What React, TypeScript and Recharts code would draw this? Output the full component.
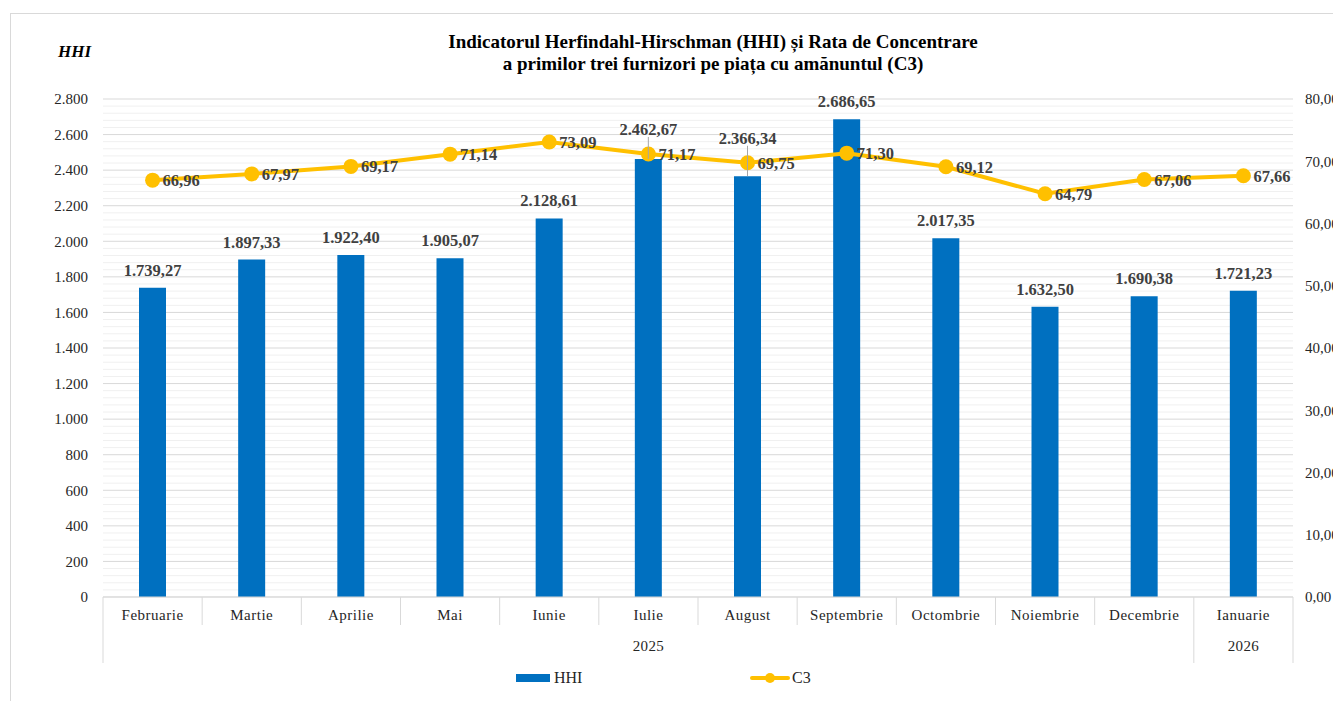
import React from "react";
import {
  ComposedChart,
  Bar,
  Line,
  XAxis,
  YAxis,
  CartesianGrid,
  LabelList,
} from "recharts";

const months = [
  "Februarie",
  "Martie",
  "Aprilie",
  "Mai",
  "Iunie",
  "Iulie",
  "August",
  "Septembrie",
  "Octombrie",
  "Noiembrie",
  "Decembrie",
  "Ianuarie",
];
const years = [
  "2025", "2025", "2025", "2025", "2025", "2025",
  "2025", "2025", "2025", "2025", "2025", "2026",
];
const hhi = [
  1739.27, 1897.33, 1922.4, 1905.07, 2128.61, 2462.67, 2366.34, 2686.65,
  2017.35, 1632.5, 1690.38, 1721.23,
];
const c3 = [
  66.96, 67.97, 69.17, 71.14, 73.09, 71.17, 69.75, 71.3, 69.12, 64.79, 67.06,
  67.66,
];
const leftTicks = [0, 200, 400, 600, 800, 1000, 1200, 1400, 1600, 1800, 2000, 2200, 2400, 2600, 2800];
const rightTicks = [0, 10, 20, 30, 40, 50, 60, 70, 80];

const data = months.map((m, i) => ({ month: m, year: years[i], hhi: hhi[i], c3: c3[i] }));

const SERIF = '"Liberation Serif", "Times New Roman", serif';
const TEXT = "#404040";
const BLUE = "#0070C0";
const GOLD = "#FFC000";
const PLOT_W = 1190;

// număr în format românesc: 2.800 / 66,96
const fmt = (v: number, d: number) => {
  const [i, f] = v.toFixed(d).split(".");
  return i.replace(/\B(?=(\d{3})+(?!\d))/g, ".") + (f ? "," + f : "");
};

// linii secundare la fiecare 40 de unități HHI
const minorLines = (p: any) => {
  const top = p?.offset?.top ?? 91;
  const h = p?.offset?.height ?? 498;
  const out: number[] = [];
  for (let v = 0; v <= 2800; v += 40) {
    if (v % 200 !== 0) out.push(top + h - (v / 2800) * h);
  }
  return out;
};

const MonthTick = (props: any) => {
  const { x, y, index, payload } = props;
  const band = PLOT_W / months.length;
  const left = x - band / 2;
  const groupStart = index === 0 || years[index] !== years[index - 1];
  let count = 0;
  if (groupStart) {
    while (index + count < years.length && years[index + count] === years[index]) count++;
  }
  const last = index === months.length - 1;
  return (
    <g>
      <line x1={left} x2={left} y1={y} y2={y + (groupStart ? 66 : 28)} stroke="#d9d9d9" />
      {last && <line x1={x + band / 2} x2={x + band / 2} y1={y} y2={y + 66} stroke="#d9d9d9" />}
      <text x={x} y={y + 23} textAnchor="middle" fontFamily={SERIF} fontSize={15} letterSpacing={0.5} fill="#262626">
        {payload.value}
      </text>
      {groupStart && (
        <text x={left + (count * band) / 2} y={y + 54} textAnchor="middle" fontFamily={SERIF} fontSize={15} letterSpacing={0.3} fill="#262626">
          {years[index]}
        </text>
      )}
    </g>
  );
};

const BarValue = (props: any) => {
  const { x, y, width, height, value, index } = props;
  const cx = x + width / 2;
  const base = y + height;
  const plotH = (height / value) * 2800;
  const lineY = base - (c3[index] / 80) * plotH;
  const label = fmt(value, 2);
  if (Math.abs(y - lineY) < 30) {
    const ty = lineY - 24;
    return (
      <g>
        <line x1={cx} x2={cx} y1={ty + 7} y2={y} stroke="#a6a6a6" />
        <text x={cx} y={ty + 5} textAnchor="middle" fontFamily={SERIF} fontSize={16.5} fontWeight="bold" fill={TEXT}>
          {label}
        </text>
      </g>
    );
  }
  return (
    <text x={cx} y={y - 12} textAnchor="middle" fontFamily={SERIF} fontSize={16.5} fontWeight="bold" fill={TEXT}>
      {label}
    </text>
  );
};

const LineValue = (props: any) => {
  const { x, y, value } = props;
  return (
    <text x={x + 10} y={y + 6} textAnchor="start" fontFamily={SERIF} fontSize={16.5} fontWeight="bold" fill={TEXT}>
      {fmt(value, 2)}
    </text>
  );
};

export default function App() {
  return (
    <div style={{ position: "relative", width: 1333, height: 693, overflow: "hidden", fontFamily: SERIF }}>
      <div
        style={{
          position: "absolute",
          left: 2,
          top: 5,
          width: 1400,
          height: 800,
          border: "1px solid #d9d9d9",
          boxSizing: "border-box",
        }}
      />
      <div
        style={{
          position: "absolute",
          left: 355,
          top: 23,
          width: 700,
          textAlign: "center",
          fontSize: 19,
          lineHeight: "22px",
          fontWeight: "bold",
          color: "#000",
        }}
      >
        <div>Indicatorul Herfindahl-Hirschman (HHI) și Rata de Concentrare</div>
        <div>a primilor trei furnizori pe piața cu amănuntul (C3)</div>
      </div>
      <div
        style={{
          position: "absolute",
          left: 50,
          top: 34,
          fontSize: 17,
          lineHeight: "20px",
          fontWeight: "bold",
          fontStyle: "italic",
          color: "#000",
        }}
      >
        HHI
      </div>

      <div style={{ position: "absolute", left: 0, top: 0 }}>
        <ComposedChart
          width={1360}
          height={693}
          data={data}
          margin={{ top: 91, right: 15, left: 35, bottom: 34 }}
          barCategoryGap={0}
        >
          <CartesianGrid
            yAxisId="left"
            vertical={false}
            stroke="#f0f0f0"
            horizontalCoordinatesGenerator={minorLines}
          />
          <CartesianGrid yAxisId="left" vertical={false} stroke="#d9d9d9" />
          <XAxis
            dataKey="month"
            axisLine={{ stroke: "#d9d9d9" }}
            tickLine={false}
            tickSize={0}
            tickMargin={0}
            height={70}
            interval={0}
            tick={<MonthTick />}
          />
          <YAxis
            yAxisId="left"
            domain={[0, 2800]}
            ticks={leftTicks}
            tickFormatter={(v: number) => fmt(v, 0)}
            axisLine={false}
            tickLine={false}
            width={60}
            tickSize={6}
            tickMargin={9}
            tick={{ fontFamily: SERIF, fontSize: 15, fill: "#262626" }}
          />
          <YAxis
            yAxisId="right"
            orientation="right"
            domain={[0, 80]}
            ticks={rightTicks}
            tickFormatter={(v: number) => fmt(v, 2)}
            axisLine={false}
            tickLine={false}
            width={60}
            tickSize={6}
            tickMargin={6}
            tick={{ fontFamily: SERIF, fontSize: 15, fill: "#262626" }}
          />
          <Bar yAxisId="left" dataKey="hhi" fill={BLUE} barSize={27} isAnimationActive={false}>
            <LabelList dataKey="hhi" content={<BarValue />} />
          </Bar>
          <Line
            yAxisId="right"
            dataKey="c3"
            stroke={GOLD}
            strokeWidth={4}
            dot={{ r: 7.5, fill: GOLD, stroke: "none" }}
            isAnimationActive={false}
          >
            <LabelList dataKey="c3" content={<LineValue />} />
          </Line>
        </ComposedChart>
      </div>

      <div style={{ position: "absolute", left: 508, top: 659, height: 22, display: "flex", alignItems: "center", fontSize: 16, color: "#262626" }}>
        <span style={{ display: "inline-block", width: 34, height: 8, background: BLUE, marginRight: 4 }} />
        HHI
      </div>
      <div style={{ position: "absolute", left: 742, top: 659, height: 22, display: "flex", alignItems: "center", fontSize: 16, color: "#262626" }}>
        <span style={{ position: "relative", display: "inline-block", width: 40, height: 4, background: GOLD, borderRadius: 2, marginRight: 2 }}>
          <span style={{ position: "absolute", left: 15, top: -3, width: 10, height: 10, borderRadius: 5, background: GOLD }} />
        </span>
        C3
      </div>
    </div>
  );
}
